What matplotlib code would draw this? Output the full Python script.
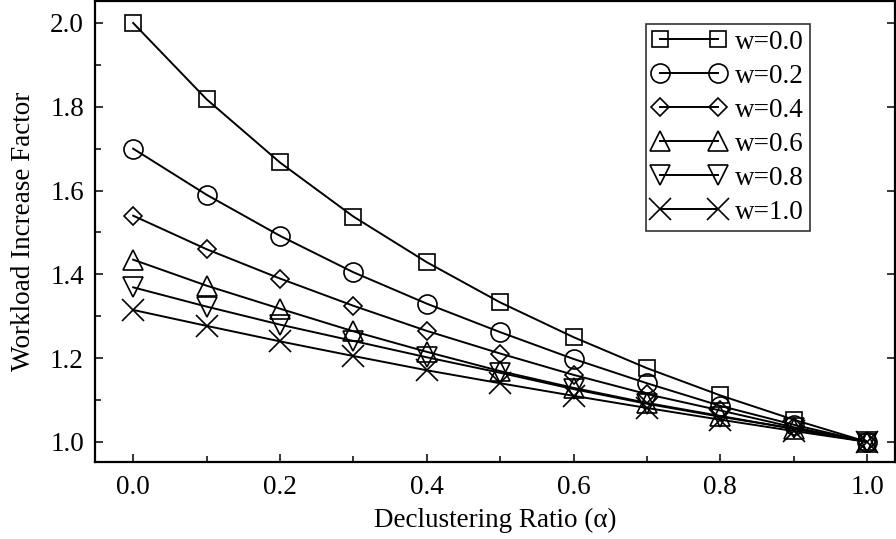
import matplotlib
matplotlib.use("Agg")
import matplotlib.pyplot as plt
from matplotlib.ticker import MultipleLocator, FormatStrFormatter

plt.rcParams['font.family'] = ['Liberation Serif', 'DejaVu Serif']

# declustering ratio and workload increase per write fraction w
alpha = [0.0, 0.1, 0.2, 0.3, 0.4, 0.5, 0.6, 0.7, 0.8, 0.9, 1.0]
w00 = [2.000, 1.818, 1.667, 1.538, 1.429, 1.333, 1.250, 1.176, 1.111, 1.053, 1.0]
w02 = [1.700, 1.590, 1.492, 1.405, 1.330, 1.262, 1.198, 1.140, 1.086, 1.041, 1.0]
w04 = [1.540, 1.460, 1.390, 1.325, 1.265, 1.211, 1.160, 1.114, 1.075, 1.035, 1.0]
w06 = [1.435, 1.373, 1.318, 1.264, 1.215, 1.169, 1.129, 1.093, 1.062, 1.031, 1.0]
w08 = [1.369, 1.323, 1.280, 1.241, 1.202, 1.165, 1.126, 1.091, 1.060, 1.032, 1.0]
w10 = [1.315, 1.277, 1.240, 1.205, 1.171, 1.140, 1.110, 1.081, 1.053, 1.026, 1.0]

series = [w00, w02, w04, w06, w08, w10]
labels = ["w=0.0", "w=0.2", "w=0.4", "w=0.6", "w=0.8", "w=1.0"]
markers = ["s", "o", "D", "^", "v", "x"]
sizes = [11.3, 13.7, 9.2, 13.9, 13.9, 16]

FS = 19.5

fig = plt.figure(figsize=(8.96, 5.39), dpi=100)
# axes box in pixels: left 95, right 895, top 1, bottom 462
ax = fig.add_axes([95 / 896, 77 / 539, 800 / 896, 461 / 539])

for ys, lab, m, ms in zip(series, labels, markers, sizes):
    ax.plot(alpha, ys, color="black", linewidth=1.4, marker=m, markersize=ms,
            markerfacecolor="none", markeredgecolor="black", markeredgewidth=1.2,
            label=lab)

ax.set_xlim(-0.052, 1.038)
ax.set_ylim(0.952, 2.0525)
ax.xaxis.set_major_locator(MultipleLocator(0.2))
ax.xaxis.set_minor_locator(MultipleLocator(0.1))
ax.yaxis.set_major_locator(MultipleLocator(0.2))
ax.yaxis.set_minor_locator(MultipleLocator(0.1))
ax.xaxis.set_major_formatter(FormatStrFormatter("%.1f"))
ax.yaxis.set_major_formatter(FormatStrFormatter("%.1f"))
ax.tick_params(which="both", direction="in", labelsize=FS, top=False, right=False)
ax.tick_params(which="major", length=6, width=1.1)
ax.tick_params(which="minor", length=4, width=1.1)
ax.tick_params(axis="y", which="major", right=True, pad=8)
ax.tick_params(axis="x", pad=9)
for s in ax.spines.values():
    s.set_linewidth(1.6)

ax.set_xlabel("Declustering Ratio (α)", fontsize=FS, labelpad=6)
ax.set_ylabel("Workload Increase Factor", fontsize=FS, labelpad=10)

leg = ax.legend(loc="upper left", bbox_to_anchor=(551 / 800, 438 / 461), numpoints=2,
                fontsize=FS, frameon=True, fancybox=False, edgecolor="black",
                handlelength=2.74, handletextpad=0.33, borderpad=0.22,
                labelspacing=0.33, borderaxespad=0)
leg.get_frame().set_linewidth(1.2)

fig.savefig("out.png", dpi=100)
